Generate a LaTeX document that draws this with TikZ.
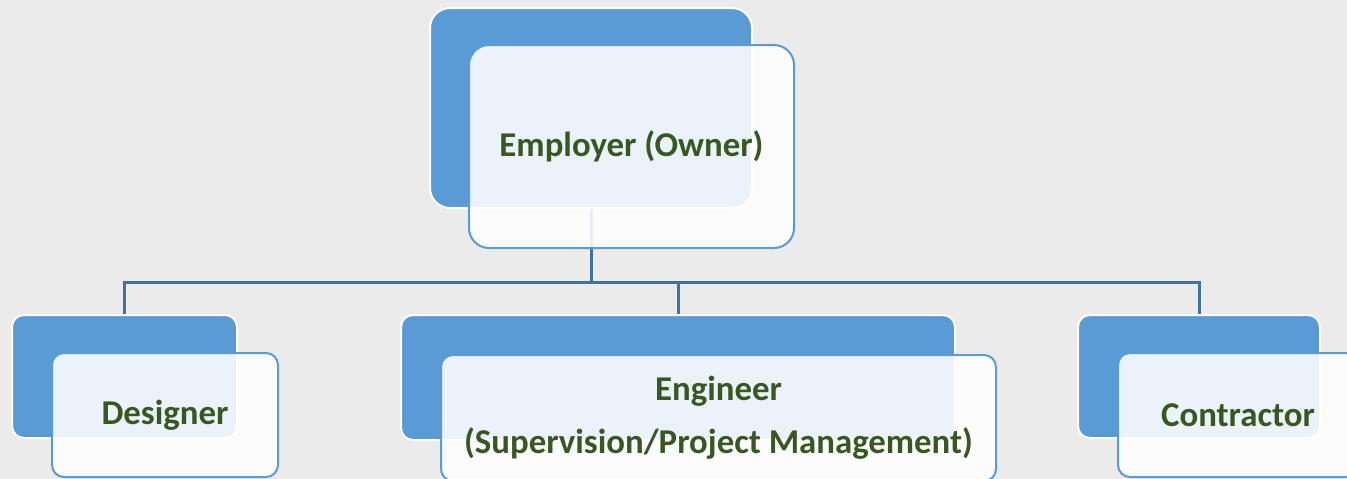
\documentclass[tikz,border=0pt]{standalone}
\usepackage{fontspec}
\setmainfont{Carlito}
\definecolor{bg}{HTML}{EBEBEB}
\definecolor{boxblue}{HTML}{5B9BD5}
\definecolor{linkblue}{HTML}{41719C}
\definecolor{txtgreen}{HTML}{385723}
\tikzset{
  backbox/.style={draw=white, line width=2pt, fill=boxblue, rounded corners=#1, inner sep=0pt},
  frontbox/.style={draw=boxblue, line width=2pt, fill=white, fill opacity=0.88, text opacity=1, rounded corners=#1, inner sep=0pt,
    text=txtgreen, font=\fontsize{34.8}{53}\selectfont\bfseries, align=center},
  link/.style={draw=linkblue, line width=3pt}
}
\begin{document}
\begin{tikzpicture}[x=1pt,y=-1pt]
\fill[bg] (0,0) rectangle (1347,479);
\useasboundingbox (0,0) rectangle (1347,479);
\begin{scope}
\clip (0,0) rectangle (1347,479);
% back boxes
\node[backbox=20pt, minimum width=322pt, minimum height=200pt] (empB) at (591,108) {};
\node[backbox=12pt, minimum width=225pt, minimum height=123pt] (desB) at (124.5,376.5) {};
\node[backbox=12pt, minimum width=554pt, minimum height=125pt] (engB) at (678,377.5) {};
\node[backbox=12pt, minimum width=242pt, minimum height=123pt] (conB) at (1199,376.5) {};
% connectors
\coordinate (bus) at (591,282);
\draw[link] (empB.south) -- (bus) -| (desB.north);
\draw[link] (bus) -| (engB.north);
\draw[link] (bus) -| (conB.north);
% front boxes
\node[frontbox=20pt, minimum width=325pt, minimum height=203pt] (empF) at (631.5,146.5) {Employer (Owner)};
\node[frontbox=12pt, minimum width=226pt, minimum height=124pt] (desF) at (165,415) {Designer};
\node[frontbox=12pt, minimum width=555pt, minimum height=126pt] (engF) at (718.5,418) {Engineer\\(Supervision/Project Management)};
\node[frontbox=12pt, minimum width=240pt, minimum height=124pt] (conF) at (1238,415) {Contractor};
\end{scope}
\end{tikzpicture}
\end{document}
